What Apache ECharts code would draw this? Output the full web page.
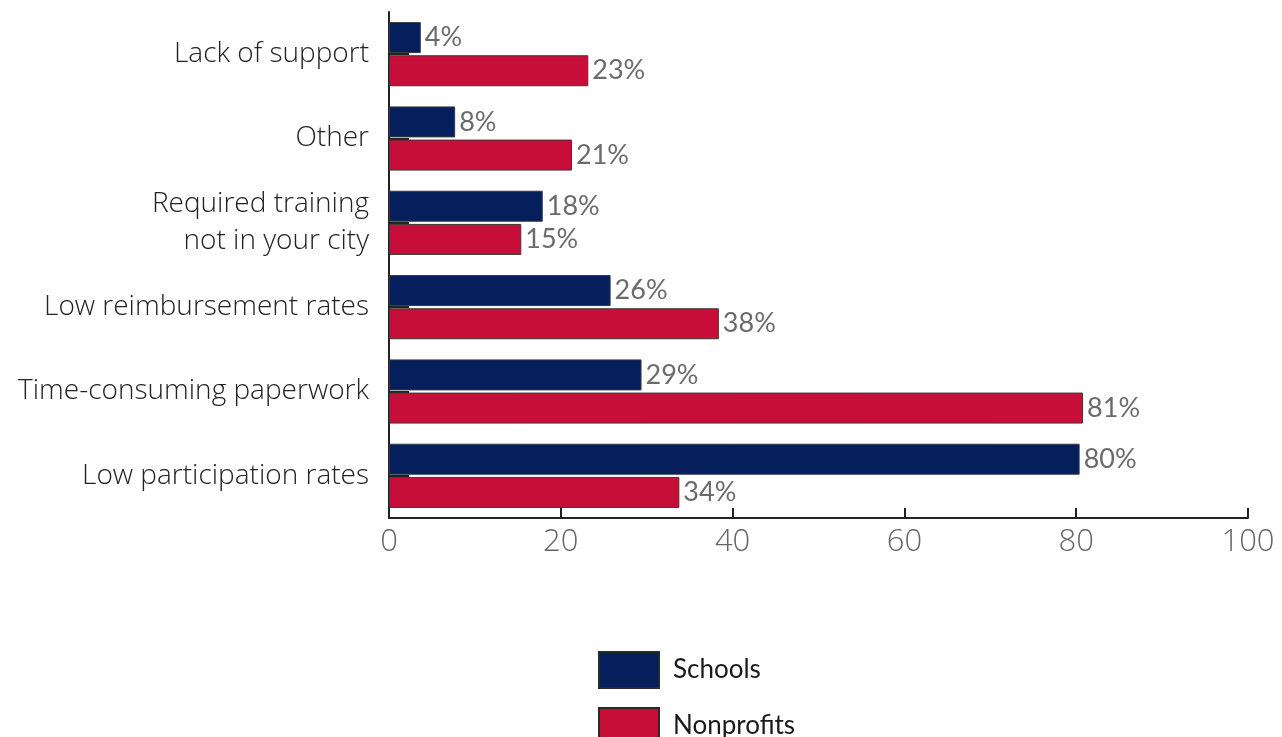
<!DOCTYPE html>
<html>
<head>
<meta charset="utf-8">
<script src="https://cdn.jsdelivr.net/npm/echarts@6/dist/echarts.min.js"></script>
<style>html,body{margin:0;padding:0;background:#fff;}#c{width:1282px;height:737px;}</style>
</head>
<body>
<div id="c"></div>
<script>
const categories = ['Lack of support', 'Other', 'Required training\nnot in your city', 'Low reimbursement rates', 'Time-consuming paperwork', 'Low participation rates'];
const schools = [3.7, 7.7, 17.9, 25.8, 29.4, 80.4];
const nonprofits = [23.2, 21.3, 15.4, 38.4, 80.8, 33.8];
const seriesNames = ['Schools', 'Nonprofits'];
const xTicks = [0, 20, 40, 60, 80, 100];

const chart = echarts.init(document.getElementById('c'));
const labelCfg = {
  show: true, position: 'right', distance: 4,
  color: '#6b6b6b', fontSize: 27, fontFamily: 'Lato',
  formatter: p => Math.round(p.value) + '%'
};
const legendBase = {
  left: 598, padding: 0, itemWidth: 60, itemHeight: 36, icon: 'rect',
  textStyle: { fontSize: 26, color: '#1a1a1a', fontFamily: 'Lato', padding: [0, 0, 0, 9] },
  itemStyle: { borderColor: '#2a2a2a', borderWidth: 2 }
};
chart.setOption({
  animation: false,
  grid: { left: 389, right: 34, top: 12, bottom: 219, containLabel: false },
  legend: [
    Object.assign({}, legendBase, { data: [seriesNames[0]], top: 651 }),
    Object.assign({}, legendBase, { data: [seriesNames[1]], top: 707 })
  ],
  xAxis: {
    type: 'value', min: 0, max: 100, interval: 20,
    axisLine: { show: true, lineStyle: { color: '#222', width: 2 } },
    axisTick: { show: true, inside: true, length: 10, lineStyle: { color: '#222', width: 2 } },
    splitLine: { show: false },
    axisLabel: { color: '#666', fontSize: 31, fontFamily: 'Open Sans', fontWeight: 300, margin: 9,
      formatter: v => xTicks.includes(v) ? String(v) : '' }
  },
  yAxis: {
    type: 'category', data: categories, inverse: true,
    axisLine: { show: true, lineStyle: { color: '#222', width: 2 } },
    axisTick: { show: true, inside: true, alignWithLabel: true, length: 20, lineStyle: { color: '#222', width: 2 } },
    axisLabel: { color: '#222', fontSize: 28, fontFamily: 'Open Sans', fontWeight: 300, margin: 20, lineHeight: 37, align: 'right' }
  },
  series: [
    { name: seriesNames[0], type: 'bar', data: schools, barWidth: 31, barGap: '7%',
      itemStyle: { color: '#041f5c', borderColor: '#3a3a3a', borderWidth: 1 }, label: labelCfg, z: 3 },
    { name: seriesNames[1], type: 'bar', data: nonprofits, barWidth: 31,
      itemStyle: { color: '#c70e38', borderColor: '#3a3a3a', borderWidth: 1 }, label: labelCfg, z: 3 }
  ]
});
</script>
</body>
</html>
